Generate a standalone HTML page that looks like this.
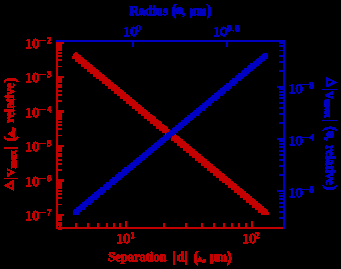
<!DOCTYPE html>
<html><head><meta charset="utf-8"><title>plot</title>
<style>
html,body{margin:0;padding:0;background:#000;}
body{width:341px;height:269px;overflow:hidden;}
svg{display:block;font-family:"Liberation Serif",serif;text-rendering:geometricPrecision;}
</style></head><body>
<svg width="341" height="269" viewBox="0 0 341 269">
<defs>
<filter id="th" filterUnits="userSpaceOnUse" x="0" y="0" width="341" height="269" color-interpolation-filters="sRGB">
<feComponentTransfer><feFuncA type="discrete" tableValues="0 1 1 1 1"/></feComponentTransfer>
</filter>
</defs>
<rect width="341" height="269" fill="#000"/>
<g filter="url(#th)" fill="#c40000" style="color:#c40000">
<path d="M75.30 52.20L76.70 52.20L79.80 56.60L79.80 58.80L72.20 58.80L72.20 56.60Z"/>
<path d="M78.30 54.68L79.70 54.68L82.80 59.08L82.80 61.28L75.20 61.28L75.20 59.08Z"/>
<path d="M81.30 57.15L82.70 57.15L85.80 61.55L85.80 63.75L78.20 63.75L78.20 61.55Z"/>
<path d="M84.30 59.63L85.70 59.63L88.80 64.03L88.80 66.23L81.20 66.23L81.20 64.03Z"/>
<path d="M87.30 62.10L88.70 62.10L91.80 66.50L91.80 68.70L84.20 68.70L84.20 66.50Z"/>
<path d="M90.30 64.58L91.70 64.58L94.80 68.98L94.80 71.18L87.20 71.18L87.20 68.98Z"/>
<path d="M93.30 67.06L94.70 67.06L97.80 71.46L97.80 73.66L90.20 73.66L90.20 71.46Z"/>
<path d="M96.30 69.53L97.70 69.53L100.80 73.93L100.80 76.13L93.20 76.13L93.20 73.93Z"/>
<path d="M99.30 72.01L100.70 72.01L103.80 76.41L103.80 78.61L96.20 78.61L96.20 76.41Z"/>
<path d="M102.30 74.49L103.70 74.49L106.80 78.89L106.80 81.09L99.20 81.09L99.20 78.89Z"/>
<path d="M105.30 76.96L106.70 76.96L109.80 81.36L109.80 83.56L102.20 83.56L102.20 81.36Z"/>
<path d="M108.30 79.44L109.70 79.44L112.80 83.84L112.80 86.04L105.20 86.04L105.20 83.84Z"/>
<path d="M111.30 81.91L112.70 81.91L115.80 86.31L115.80 88.51L108.20 88.51L108.20 86.31Z"/>
<path d="M114.30 84.39L115.70 84.39L118.80 88.79L118.80 90.99L111.20 90.99L111.20 88.79Z"/>
<path d="M117.30 86.87L118.70 86.87L121.80 91.27L121.80 93.47L114.20 93.47L114.20 91.27Z"/>
<path d="M120.30 89.34L121.70 89.34L124.80 93.74L124.80 95.94L117.20 95.94L117.20 93.74Z"/>
<path d="M123.30 91.82L124.70 91.82L127.80 96.22L127.80 98.42L120.20 98.42L120.20 96.22Z"/>
<path d="M126.30 94.30L127.70 94.30L130.80 98.70L130.80 100.90L123.20 100.90L123.20 98.70Z"/>
<path d="M129.30 96.77L130.70 96.77L133.80 101.17L133.80 103.37L126.20 103.37L126.20 101.17Z"/>
<path d="M132.30 99.25L133.70 99.25L136.80 103.65L136.80 105.85L129.20 105.85L129.20 103.65Z"/>
<path d="M135.30 101.72L136.70 101.72L139.80 106.12L139.80 108.32L132.20 108.32L132.20 106.12Z"/>
<path d="M138.30 104.20L139.70 104.20L142.80 108.60L142.80 110.80L135.20 110.80L135.20 108.60Z"/>
<path d="M141.30 106.68L142.70 106.68L145.80 111.08L145.80 113.28L138.20 113.28L138.20 111.08Z"/>
<path d="M144.30 109.15L145.70 109.15L148.80 113.55L148.80 115.75L141.20 115.75L141.20 113.55Z"/>
<path d="M147.30 111.63L148.70 111.63L151.80 116.03L151.80 118.23L144.20 118.23L144.20 116.03Z"/>
<path d="M150.30 114.10L151.70 114.10L154.80 118.50L154.80 120.70L147.20 120.70L147.20 118.50Z"/>
<path d="M153.30 116.58L154.70 116.58L157.80 120.98L157.80 123.18L150.20 123.18L150.20 120.98Z"/>
<path d="M156.30 119.06L157.70 119.06L160.80 123.46L160.80 125.66L153.20 125.66L153.20 123.46Z"/>
<path d="M159.30 121.53L160.70 121.53L163.80 125.93L163.80 128.13L156.20 128.13L156.20 125.93Z"/>
<path d="M162.30 124.01L163.70 124.01L166.80 128.41L166.80 130.61L159.20 130.61L159.20 128.41Z"/>
<path d="M165.30 126.49L166.70 126.49L169.80 130.89L169.80 133.09L162.20 133.09L162.20 130.89Z"/>
<path d="M168.30 128.96L169.70 128.96L172.80 133.36L172.80 135.56L165.20 135.56L165.20 133.36Z"/>
<path d="M171.30 131.44L172.70 131.44L175.80 135.84L175.80 138.04L168.20 138.04L168.20 135.84Z"/>
<path d="M174.30 133.91L175.70 133.91L178.80 138.31L178.80 140.51L171.20 140.51L171.20 138.31Z"/>
<path d="M177.30 136.39L178.70 136.39L181.80 140.79L181.80 142.99L174.20 142.99L174.20 140.79Z"/>
<path d="M180.30 138.87L181.70 138.87L184.80 143.27L184.80 145.47L177.20 145.47L177.20 143.27Z"/>
<path d="M183.30 141.34L184.70 141.34L187.80 145.74L187.80 147.94L180.20 147.94L180.20 145.74Z"/>
<path d="M186.30 143.82L187.70 143.82L190.80 148.22L190.80 150.42L183.20 150.42L183.20 148.22Z"/>
<path d="M189.30 146.30L190.70 146.30L193.80 150.70L193.80 152.90L186.20 152.90L186.20 150.70Z"/>
<path d="M192.30 148.77L193.70 148.77L196.80 153.17L196.80 155.37L189.20 155.37L189.20 153.17Z"/>
<path d="M195.30 151.25L196.70 151.25L199.80 155.65L199.80 157.85L192.20 157.85L192.20 155.65Z"/>
<path d="M198.30 153.72L199.70 153.72L202.80 158.12L202.80 160.32L195.20 160.32L195.20 158.12Z"/>
<path d="M201.30 156.20L202.70 156.20L205.80 160.60L205.80 162.80L198.20 162.80L198.20 160.60Z"/>
<path d="M204.30 158.68L205.70 158.68L208.80 163.08L208.80 165.28L201.20 165.28L201.20 163.08Z"/>
<path d="M207.30 161.15L208.70 161.15L211.80 165.55L211.80 167.75L204.20 167.75L204.20 165.55Z"/>
<path d="M210.30 163.63L211.70 163.63L214.80 168.03L214.80 170.23L207.20 170.23L207.20 168.03Z"/>
<path d="M213.30 166.10L214.70 166.10L217.80 170.50L217.80 172.70L210.20 172.70L210.20 170.50Z"/>
<path d="M216.30 168.58L217.70 168.58L220.80 172.98L220.80 175.18L213.20 175.18L213.20 172.98Z"/>
<path d="M219.30 171.06L220.70 171.06L223.80 175.46L223.80 177.66L216.20 177.66L216.20 175.46Z"/>
<path d="M222.30 173.53L223.70 173.53L226.80 177.93L226.80 180.13L219.20 180.13L219.20 177.93Z"/>
<path d="M225.30 176.01L226.70 176.01L229.80 180.41L229.80 182.61L222.20 182.61L222.20 180.41Z"/>
<path d="M228.30 178.49L229.70 178.49L232.80 182.89L232.80 185.09L225.20 185.09L225.20 182.89Z"/>
<path d="M231.30 180.96L232.70 180.96L235.80 185.36L235.80 187.56L228.20 187.56L228.20 185.36Z"/>
<path d="M234.30 183.44L235.70 183.44L238.80 187.84L238.80 190.04L231.20 190.04L231.20 187.84Z"/>
<path d="M237.30 185.91L238.70 185.91L241.80 190.31L241.80 192.51L234.20 192.51L234.20 190.31Z"/>
<path d="M240.30 188.39L241.70 188.39L244.80 192.79L244.80 194.99L237.20 194.99L237.20 192.79Z"/>
<path d="M243.30 190.87L244.70 190.87L247.80 195.27L247.80 197.47L240.20 197.47L240.20 195.27Z"/>
<path d="M246.30 193.34L247.70 193.34L250.80 197.74L250.80 199.94L243.20 199.94L243.20 197.74Z"/>
<path d="M249.30 195.82L250.70 195.82L253.80 200.22L253.80 202.42L246.20 202.42L246.20 200.22Z"/>
<path d="M252.30 198.30L253.70 198.30L256.80 202.70L256.80 204.90L249.20 204.90L249.20 202.70Z"/>
<path d="M255.30 200.77L256.70 200.77L259.80 205.17L259.80 207.37L252.20 207.37L252.20 205.17Z"/>
<path d="M258.30 203.25L259.70 203.25L262.80 207.65L262.80 209.85L255.20 209.85L255.20 207.65Z"/>
<path d="M261.30 205.72L262.70 205.72L265.80 210.12L265.80 212.32L258.20 212.32L258.20 210.12Z"/>
<path d="M264.30 208.20L265.70 208.20L268.80 212.60L268.80 214.80L261.20 214.80L261.20 212.60Z"/>
<rect x="58.05" y="228.05" width="3.90" height="1.90"/>
<rect x="58.05" y="224.05" width="3.90" height="1.90"/>
<rect x="58.05" y="222.05" width="3.90" height="1.90"/>
<rect x="58.05" y="219.05" width="3.90" height="1.90"/>
<rect x="58.05" y="217.05" width="3.90" height="1.90"/>
<rect x="58.05" y="216.05" width="3.90" height="0.90"/>
<rect x="58.05" y="214.05" width="5.90" height="1.90"/>
<rect x="58.05" y="204.05" width="3.90" height="0.90"/>
<rect x="58.05" y="197.05" width="3.90" height="1.90"/>
<rect x="58.05" y="193.05" width="3.90" height="1.90"/>
<rect x="58.05" y="190.05" width="3.90" height="1.90"/>
<rect x="58.05" y="187.05" width="3.90" height="1.90"/>
<rect x="58.05" y="185.05" width="3.90" height="1.90"/>
<rect x="58.05" y="183.05" width="3.90" height="1.90"/>
<rect x="58.05" y="181.05" width="3.90" height="1.90"/>
<rect x="58.05" y="179.05" width="5.90" height="2.90"/>
<rect x="58.05" y="169.05" width="3.90" height="1.90"/>
<rect x="58.05" y="163.05" width="3.90" height="1.90"/>
<rect x="58.05" y="159.05" width="3.90" height="1.90"/>
<rect x="58.05" y="155.05" width="3.90" height="1.90"/>
<rect x="58.05" y="153.05" width="3.90" height="1.90"/>
<rect x="58.05" y="150.05" width="3.90" height="1.90"/>
<rect x="58.05" y="148.05" width="3.90" height="1.90"/>
<rect x="58.05" y="147.05" width="3.90" height="0.90"/>
<rect x="58.05" y="145.05" width="5.90" height="1.90"/>
<rect x="58.05" y="135.05" width="3.90" height="0.90"/>
<rect x="58.05" y="128.05" width="3.90" height="1.90"/>
<rect x="58.05" y="124.05" width="3.90" height="1.90"/>
<rect x="58.05" y="121.05" width="3.90" height="1.90"/>
<rect x="58.05" y="118.05" width="3.90" height="1.90"/>
<rect x="58.05" y="116.05" width="3.90" height="1.90"/>
<rect x="58.05" y="114.05" width="3.90" height="1.90"/>
<rect x="58.05" y="112.05" width="3.90" height="1.90"/>
<rect x="58.05" y="110.05" width="5.90" height="2.90"/>
<rect x="58.05" y="100.05" width="3.90" height="1.90"/>
<rect x="58.05" y="94.05" width="3.90" height="1.90"/>
<rect x="58.05" y="90.05" width="3.90" height="1.90"/>
<rect x="58.05" y="86.05" width="3.90" height="1.90"/>
<rect x="58.05" y="84.05" width="3.90" height="1.90"/>
<rect x="58.05" y="81.05" width="3.90" height="1.90"/>
<rect x="58.05" y="79.05" width="3.90" height="1.90"/>
<rect x="58.05" y="78.05" width="3.90" height="0.90"/>
<rect x="58.05" y="76.05" width="5.90" height="1.90"/>
<rect x="58.05" y="66.05" width="3.90" height="0.90"/>
<rect x="58.05" y="59.05" width="3.90" height="1.90"/>
<rect x="58.05" y="55.05" width="3.90" height="1.90"/>
<rect x="58.05" y="52.05" width="3.90" height="1.90"/>
<rect x="58.05" y="49.05" width="3.90" height="1.90"/>
<rect x="58.05" y="47.05" width="3.90" height="1.90"/>
<rect x="58.05" y="45.05" width="3.90" height="1.90"/>
<rect x="58.05" y="43.05" width="3.90" height="1.90"/>
<rect x="58.05" y="41.05" width="5.90" height="2.90"/>
<rect x="59.05" y="223.05" width="1.90" height="3.90"/>
<rect x="75.05" y="223.05" width="1.90" height="3.90"/>
<rect x="87.05" y="223.05" width="1.90" height="3.90"/>
<rect x="97.05" y="223.05" width="1.90" height="3.90"/>
<rect x="106.05" y="223.05" width="1.90" height="3.90"/>
<rect x="113.05" y="223.05" width="1.90" height="3.90"/>
<rect x="119.05" y="223.05" width="1.90" height="3.90"/>
<rect x="125.05" y="221.05" width="1.90" height="5.90"/>
<rect x="163.05" y="223.05" width="1.90" height="3.90"/>
<rect x="185.05" y="223.05" width="1.90" height="3.90"/>
<rect x="201.05" y="223.05" width="1.90" height="3.90"/>
<rect x="213.05" y="223.05" width="1.90" height="3.90"/>
<rect x="223.05" y="223.05" width="1.90" height="3.90"/>
<rect x="231.05" y="223.05" width="1.90" height="3.90"/>
<rect x="238.05" y="223.05" width="1.90" height="3.90"/>
<rect x="245.05" y="223.05" width="1.90" height="3.90"/>
<rect x="251.05" y="221.05" width="1.90" height="5.90"/>
<rect x="56.10" y="40.10" width="1.80" height="188.80"/>
<rect x="56.10" y="227.10" width="228.80" height="1.80"/>
<text x="25.00" y="47.70" font-size="13.4" stroke="#c40000" stroke-width="0.55" textLength="14.3" lengthAdjust="spacingAndGlyphs">10</text>
<rect x="39.40" y="40.10" width="6.40" height="0.80"/>
<text x="47.10" y="42.70" font-size="8.7" stroke="#c40000" stroke-width="0.7">2</text>
<text x="25.00" y="82.20" font-size="13.4" stroke="#c40000" stroke-width="0.55" textLength="14.3" lengthAdjust="spacingAndGlyphs">10</text>
<rect x="39.40" y="74.10" width="6.40" height="0.80"/>
<text x="47.10" y="77.20" font-size="8.7" stroke="#c40000" stroke-width="0.7">3</text>
<text x="25.00" y="116.70" font-size="13.4" stroke="#c40000" stroke-width="0.55" textLength="14.3" lengthAdjust="spacingAndGlyphs">10</text>
<rect x="39.40" y="109.10" width="6.40" height="0.80"/>
<text x="47.10" y="111.70" font-size="8.7" stroke="#c40000" stroke-width="0.7">4</text>
<text x="25.00" y="151.20" font-size="13.4" stroke="#c40000" stroke-width="0.55" textLength="14.3" lengthAdjust="spacingAndGlyphs">10</text>
<rect x="39.40" y="143.10" width="6.40" height="0.80"/>
<text x="47.10" y="146.20" font-size="8.7" stroke="#c40000" stroke-width="0.7">5</text>
<text x="25.00" y="185.70" font-size="13.4" stroke="#c40000" stroke-width="0.55" textLength="14.3" lengthAdjust="spacingAndGlyphs">10</text>
<rect x="39.40" y="178.10" width="6.40" height="0.80"/>
<text x="47.10" y="180.70" font-size="8.7" stroke="#c40000" stroke-width="0.7">6</text>
<text x="25.00" y="220.20" font-size="13.4" stroke="#c40000" stroke-width="0.55" textLength="14.3" lengthAdjust="spacingAndGlyphs">10</text>
<rect x="39.40" y="212.10" width="6.40" height="0.80"/>
<text x="47.10" y="215.20" font-size="8.7" stroke="#c40000" stroke-width="0.7">7</text>
<text x="116.00" y="243.00" font-size="13.4" stroke="#c40000" stroke-width="0.55" textLength="14.3" lengthAdjust="spacingAndGlyphs">10</text>
<text x="130.40" y="238.00" font-size="8.7" stroke="#c40000" stroke-width="0.7">1</text>
<text x="242.00" y="243.00" font-size="13.4" stroke="#c40000" stroke-width="0.55" textLength="14.3" lengthAdjust="spacingAndGlyphs">10</text>
<text x="255.30" y="238.00" font-size="8.7" stroke="#c40000" stroke-width="0.7">2</text>
<g transform="translate(14.3,190.8) rotate(-90)"><path fill-rule="evenodd" d="M0.1 -0.3L10.7 -0.3L5.8 -10.1L5.0 -10.1Z M3.0 -1.9L7.4 -1.9L4.9 -6.9Z"/><rect x="12.05" y="-10.3" width="0.50" height="14.1"/><text x="14.30" y="0.00" font-size="13.8" font-weight="bold" textLength="7.8" lengthAdjust="spacingAndGlyphs" stroke="currentColor" stroke-width="0.4">v</text><text x="22.40" y="1.50" font-size="10" font-weight="bold" stroke-width="0.5" stroke="currentColor" textLength="18.4" lengthAdjust="spacingAndGlyphs">max</text><rect x="42.10" y="-10.3" width="1.30" height="14.1"/><text x="49.30" y="0.30" font-size="16" font-weight="bold" textLength="5.0" lengthAdjust="spacingAndGlyphs" stroke="currentColor" stroke-width="0.4">(</text><path d="M52.60 0.4L61.40 0.4L57.00 -6.70Z"/><text x="60.30" y="0.00" font-size="13.5" font-weight="bold" stroke="currentColor" stroke-width="0.4">,</text><text x="68.00" y="0.00" font-size="13.5" font-weight="bold" textLength="39.8" lengthAdjust="spacingAndGlyphs" stroke="currentColor" stroke-width="0.4">relative</text><text x="108.30" y="0.30" font-size="16" font-weight="bold" textLength="5.0" lengthAdjust="spacingAndGlyphs" stroke="currentColor" stroke-width="0.4">)</text></g>
<g transform="translate(108.5,261.2)"><text x="-0.30" y="0.00" font-size="13.5" font-weight="bold" textLength="58.4" lengthAdjust="spacingAndGlyphs" stroke="currentColor" stroke-width="0.4">Separation</text><rect x="64.80" y="-10.3" width="1.40" height="14.1"/><text x="68.00" y="0.00" font-size="13.5" font-weight="bold" textLength="8.4" lengthAdjust="spacingAndGlyphs" stroke="currentColor" stroke-width="0.4">d</text><rect x="76.80" y="-10.3" width="1.40" height="14.1"/><text x="85.00" y="0.30" font-size="16" font-weight="bold" textLength="5.0" lengthAdjust="spacingAndGlyphs" stroke="currentColor" stroke-width="0.4">(</text><path d="M88.50 0.4L94.30 0.4L91.40 -5.00Z"/><text x="94.00" y="0.00" font-size="13.5" font-weight="bold" stroke="currentColor" stroke-width="0.4">,</text><text x="101.50" y="0.00" font-size="13.5" font-weight="bold" textLength="17.0" lengthAdjust="spacingAndGlyphs" stroke="currentColor" stroke-width="0.4">µm</text><text x="118.30" y="0.30" font-size="16" font-weight="bold" textLength="5.0" lengthAdjust="spacingAndGlyphs" stroke="currentColor" stroke-width="0.4">)</text></g>
</g>
<g filter="url(#th)" fill="#0000c4" style="color:#0000c4">
<rect x="73.20" y="209.20" width="5.6" height="5.6" rx="1.6"/>
<rect x="76.20" y="206.72" width="5.6" height="5.6" rx="1.6"/>
<rect x="79.20" y="204.25" width="5.6" height="5.6" rx="1.6"/>
<rect x="82.20" y="201.77" width="5.6" height="5.6" rx="1.6"/>
<rect x="85.20" y="199.30" width="5.6" height="5.6" rx="1.6"/>
<rect x="88.20" y="196.82" width="5.6" height="5.6" rx="1.6"/>
<rect x="91.20" y="194.34" width="5.6" height="5.6" rx="1.6"/>
<rect x="94.20" y="191.87" width="5.6" height="5.6" rx="1.6"/>
<rect x="97.20" y="189.39" width="5.6" height="5.6" rx="1.6"/>
<rect x="100.20" y="186.91" width="5.6" height="5.6" rx="1.6"/>
<rect x="103.20" y="184.44" width="5.6" height="5.6" rx="1.6"/>
<rect x="106.20" y="181.96" width="5.6" height="5.6" rx="1.6"/>
<rect x="109.20" y="179.49" width="5.6" height="5.6" rx="1.6"/>
<rect x="112.20" y="177.01" width="5.6" height="5.6" rx="1.6"/>
<rect x="115.20" y="174.53" width="5.6" height="5.6" rx="1.6"/>
<rect x="118.20" y="172.06" width="5.6" height="5.6" rx="1.6"/>
<rect x="121.20" y="169.58" width="5.6" height="5.6" rx="1.6"/>
<rect x="124.20" y="167.10" width="5.6" height="5.6" rx="1.6"/>
<rect x="127.20" y="164.63" width="5.6" height="5.6" rx="1.6"/>
<rect x="130.20" y="162.15" width="5.6" height="5.6" rx="1.6"/>
<rect x="133.20" y="159.68" width="5.6" height="5.6" rx="1.6"/>
<rect x="136.20" y="157.20" width="5.6" height="5.6" rx="1.6"/>
<rect x="139.20" y="154.72" width="5.6" height="5.6" rx="1.6"/>
<rect x="142.20" y="152.25" width="5.6" height="5.6" rx="1.6"/>
<rect x="145.20" y="149.77" width="5.6" height="5.6" rx="1.6"/>
<rect x="148.20" y="147.30" width="5.6" height="5.6" rx="1.6"/>
<rect x="151.20" y="144.82" width="5.6" height="5.6" rx="1.6"/>
<rect x="154.20" y="142.34" width="5.6" height="5.6" rx="1.6"/>
<rect x="157.20" y="139.87" width="5.6" height="5.6" rx="1.6"/>
<rect x="160.20" y="137.39" width="5.6" height="5.6" rx="1.6"/>
<rect x="163.20" y="134.91" width="5.6" height="5.6" rx="1.6"/>
<rect x="166.20" y="132.44" width="5.6" height="5.6" rx="1.6"/>
<rect x="169.20" y="129.96" width="5.6" height="5.6" rx="1.6"/>
<rect x="172.20" y="127.49" width="5.6" height="5.6" rx="1.6"/>
<rect x="175.20" y="125.01" width="5.6" height="5.6" rx="1.6"/>
<rect x="178.20" y="122.53" width="5.6" height="5.6" rx="1.6"/>
<rect x="181.20" y="120.06" width="5.6" height="5.6" rx="1.6"/>
<rect x="184.20" y="117.58" width="5.6" height="5.6" rx="1.6"/>
<rect x="187.20" y="115.10" width="5.6" height="5.6" rx="1.6"/>
<rect x="190.20" y="112.63" width="5.6" height="5.6" rx="1.6"/>
<rect x="193.20" y="110.15" width="5.6" height="5.6" rx="1.6"/>
<rect x="196.20" y="107.68" width="5.6" height="5.6" rx="1.6"/>
<rect x="199.20" y="105.20" width="5.6" height="5.6" rx="1.6"/>
<rect x="202.20" y="102.72" width="5.6" height="5.6" rx="1.6"/>
<rect x="205.20" y="100.25" width="5.6" height="5.6" rx="1.6"/>
<rect x="208.20" y="97.77" width="5.6" height="5.6" rx="1.6"/>
<rect x="211.20" y="95.30" width="5.6" height="5.6" rx="1.6"/>
<rect x="214.20" y="92.82" width="5.6" height="5.6" rx="1.6"/>
<rect x="217.20" y="90.34" width="5.6" height="5.6" rx="1.6"/>
<rect x="220.20" y="87.87" width="5.6" height="5.6" rx="1.6"/>
<rect x="223.20" y="85.39" width="5.6" height="5.6" rx="1.6"/>
<rect x="226.20" y="82.91" width="5.6" height="5.6" rx="1.6"/>
<rect x="229.20" y="80.44" width="5.6" height="5.6" rx="1.6"/>
<rect x="232.20" y="77.96" width="5.6" height="5.6" rx="1.6"/>
<rect x="235.20" y="75.49" width="5.6" height="5.6" rx="1.6"/>
<rect x="238.20" y="73.01" width="5.6" height="5.6" rx="1.6"/>
<rect x="241.20" y="70.53" width="5.6" height="5.6" rx="1.6"/>
<rect x="244.20" y="68.06" width="5.6" height="5.6" rx="1.6"/>
<rect x="247.20" y="65.58" width="5.6" height="5.6" rx="1.6"/>
<rect x="250.20" y="63.10" width="5.6" height="5.6" rx="1.6"/>
<rect x="253.20" y="60.63" width="5.6" height="5.6" rx="1.6"/>
<rect x="256.20" y="58.15" width="5.6" height="5.6" rx="1.6"/>
<rect x="259.20" y="55.68" width="5.6" height="5.6" rx="1.6"/>
<rect x="262.20" y="53.20" width="5.6" height="5.6" rx="1.6"/>
<rect x="279.05" y="217.05" width="3.90" height="1.90"/>
<rect x="279.05" y="211.05" width="3.90" height="1.90"/>
<rect x="279.05" y="206.05" width="3.90" height="1.90"/>
<rect x="279.05" y="202.05" width="3.90" height="1.90"/>
<rect x="279.05" y="198.05" width="3.90" height="1.90"/>
<rect x="279.05" y="195.05" width="3.90" height="1.90"/>
<rect x="279.05" y="193.05" width="3.90" height="0.90"/>
<rect x="277.05" y="190.05" width="5.90" height="1.90"/>
<rect x="279.05" y="174.05" width="3.90" height="1.90"/>
<rect x="279.05" y="165.05" width="3.90" height="1.90"/>
<rect x="279.05" y="159.05" width="3.90" height="1.90"/>
<rect x="279.05" y="154.05" width="3.90" height="1.90"/>
<rect x="279.05" y="150.05" width="3.90" height="1.90"/>
<rect x="279.05" y="146.05" width="3.90" height="1.90"/>
<rect x="279.05" y="143.05" width="3.90" height="1.90"/>
<rect x="279.05" y="140.05" width="3.90" height="1.90"/>
<rect x="277.05" y="138.05" width="5.90" height="1.90"/>
<rect x="279.05" y="122.05" width="3.90" height="1.90"/>
<rect x="279.05" y="113.05" width="3.90" height="1.90"/>
<rect x="279.05" y="107.05" width="3.90" height="1.90"/>
<rect x="279.05" y="102.05" width="3.90" height="1.90"/>
<rect x="279.05" y="97.05" width="3.90" height="1.90"/>
<rect x="279.05" y="94.05" width="3.90" height="1.90"/>
<rect x="279.05" y="91.05" width="3.90" height="1.90"/>
<rect x="279.05" y="88.05" width="3.90" height="1.90"/>
<rect x="277.05" y="86.05" width="5.90" height="1.90"/>
<rect x="279.05" y="70.05" width="3.90" height="1.90"/>
<rect x="279.05" y="61.05" width="3.90" height="1.90"/>
<rect x="279.05" y="55.05" width="3.90" height="1.90"/>
<rect x="279.05" y="50.05" width="3.90" height="0.90"/>
<rect x="279.05" y="45.05" width="3.90" height="1.90"/>
<rect x="279.05" y="42.05" width="3.90" height="1.90"/>
<rect x="132.05" y="42.05" width="1.90" height="4.90"/>
<rect x="226.05" y="42.05" width="1.90" height="4.90"/>
<rect x="283.10" y="40.10" width="1.80" height="188.80"/>
<rect x="56.10" y="40.10" width="228.80" height="1.80"/>
<text x="288.30" y="92.50" font-size="13.4" stroke="#0000c4" stroke-width="0.55" textLength="14.3" lengthAdjust="spacingAndGlyphs">10</text>
<rect x="302.70" y="84.10" width="6.40" height="0.80"/>
<text x="309.40" y="87.50" font-size="8.7" stroke="#0000c4" stroke-width="0.7">3</text>
<text x="288.30" y="144.60" font-size="13.4" stroke="#0000c4" stroke-width="0.55" textLength="14.3" lengthAdjust="spacingAndGlyphs">10</text>
<rect x="302.70" y="137.10" width="6.40" height="0.80"/>
<text x="309.40" y="139.60" font-size="8.7" stroke="#0000c4" stroke-width="0.7">4</text>
<text x="288.30" y="196.70" font-size="13.4" stroke="#0000c4" stroke-width="0.55" textLength="14.3" lengthAdjust="spacingAndGlyphs">10</text>
<rect x="302.70" y="189.10" width="6.40" height="0.80"/>
<text x="309.40" y="191.70" font-size="8.7" stroke="#0000c4" stroke-width="0.7">5</text>
<text x="123.00" y="36.40" font-size="13.4" stroke="#0000c4" stroke-width="0.55" textLength="14.3" lengthAdjust="spacingAndGlyphs">10</text>
<text x="136.30" y="31.40" font-size="8.7" stroke="#0000c4" stroke-width="0.7">0</text>
<text x="212.90" y="36.40" font-size="13.4" stroke="#0000c4" stroke-width="0.55" textLength="14.3" lengthAdjust="spacingAndGlyphs">10</text>
<text x="227.10" y="31.40" font-size="8.7" stroke="#0000c4" stroke-width="0.7" textLength="12.6" lengthAdjust="spacing">0.5</text>
<g transform="translate(326.2,76.9) rotate(90)"><path fill-rule="evenodd" d="M0.1 -0.3L10.7 -0.3L5.8 -10.1L5.0 -10.1Z M3.0 -1.9L7.4 -1.9L4.9 -6.9Z"/><rect x="12.35" y="-10.3" width="0.50" height="14.1"/><text x="14.30" y="0.00" font-size="13.8" font-weight="bold" textLength="7.8" lengthAdjust="spacingAndGlyphs" stroke="currentColor" stroke-width="0.4">v</text><text x="22.40" y="1.50" font-size="10" font-weight="bold" stroke-width="0.5" stroke="currentColor" textLength="18.4" lengthAdjust="spacingAndGlyphs">max</text><rect x="43.35" y="-10.3" width="0.50" height="14.1"/><text x="49.30" y="0.30" font-size="16" font-weight="bold" textLength="5.0" lengthAdjust="spacingAndGlyphs" stroke="currentColor" stroke-width="0.4">(</text><circle cx="57.70" cy="-3.90" r="3.60"/><text x="60.30" y="0.00" font-size="13.5" font-weight="bold" stroke="currentColor" stroke-width="0.4">,</text><text x="68.00" y="0.00" font-size="13.5" font-weight="bold" textLength="39.8" lengthAdjust="spacingAndGlyphs" stroke="currentColor" stroke-width="0.4">relative</text><text x="108.30" y="0.30" font-size="16" font-weight="bold" textLength="5.0" lengthAdjust="spacingAndGlyphs" stroke="currentColor" stroke-width="0.4">)</text></g>
<g transform="translate(129.6,14.6)"><text x="-0.20" y="0.00" font-size="13.5" font-weight="bold" textLength="38.6" lengthAdjust="spacingAndGlyphs" stroke="currentColor" stroke-width="0.4">Radius</text><text x="41.80" y="0.30" font-size="16" font-weight="bold" textLength="5.0" lengthAdjust="spacingAndGlyphs" stroke="currentColor" stroke-width="0.4">(</text><circle cx="49.60" cy="-3.90" r="3.60"/><text x="52.40" y="0.00" font-size="13.5" font-weight="bold" stroke="currentColor" stroke-width="0.4">,</text><text x="60.20" y="0.00" font-size="13.5" font-weight="bold" textLength="16.2" lengthAdjust="spacingAndGlyphs" stroke="currentColor" stroke-width="0.4">µm</text><text x="77.00" y="0.30" font-size="16" font-weight="bold" textLength="5.0" lengthAdjust="spacingAndGlyphs" stroke="currentColor" stroke-width="0.4">)</text></g>
</g>
</svg>
</body></html>
